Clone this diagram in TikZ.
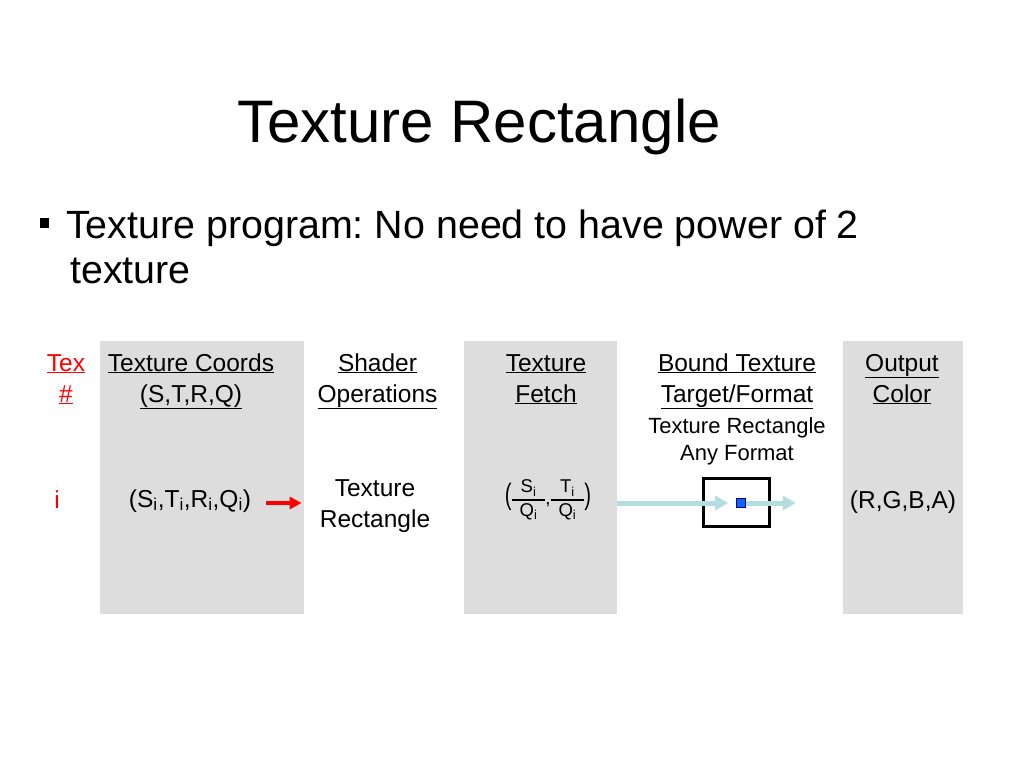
\documentclass[tikz,border=0pt]{standalone}
\usepackage{fontspec}
\usepackage{graphicx}
\setmainfont{Liberation Sans}
\usetikzlibrary{positioning, arrows.meta}
\frenchspacing

\definecolor{panelgray}{HTML}{DDDDDD}
\definecolor{flowblue}{HTML}{B4DDE1}
\definecolor{texelblue}{HTML}{1463F0}
\newcommand\sub[1]{\textsubscript{#1}}
\newcommand\txfrac[2]{{\setlength\arrayrulewidth{1.6pt}%
  \begin{tabular}{@{\hspace{8pt}}c@{\hspace{8pt}}}#1\\\hline #2\end{tabular}}}
\newcommand\bigparen[1]{\scalebox{1.1}[1.6]{#1}}

\begin{document}
\begin{tikzpicture}[
  x=1pt, y=-1pt,
  every node/.style={inner sep=0pt, font=\fontsize{24.5}{31}\selectfont},
  panel/.style={fill=panelgray, minimum height=273pt},
  head/.style={align=center, anchor=base},
  redarrow/.style={-{Triangle[length=12pt,width=12pt]}, line width=4pt, red},
  flow/.style={-{Triangle[length=13pt,width=14pt]}, line width=5pt, flowblue}
]
\useasboundingbox (0,0) rectangle (1024,768);

% Title and bullet
\node[anchor=base, font=\fontsize{60}{72}\selectfont] (title) at (479,142) {Texture Rectangle};
\node[fill=black, minimum size=9.5pt] (bullet) at (44.5,223) {};
\node[anchor=base west, align=left, font=\fontsize{39.4}{45}\selectfont] (point) at (66,283)
  {Texture program: No need to have power of 2\\\hspace*{4pt}texture};

% Gray panels
\node[panel, minimum width=204pt] (coordspanel) at (202,477.5) {};
\node[panel, minimum width=153pt] (fetchpanel) at (540.5,477.5) {};
\node[panel, minimum width=120pt] (outpanel) at (903,477.5) {};

% Column headings (base = last line)
\node[head, red] (texhead) at (66,402) {\underline{Tex}\\\underline{\#}};
\node[head] (coordshead) at (191,402) {\underline{Texture Coords}\\\underline{(S,T,R,Q)}};
\node[head] (shaderhead) at (377.5,402) {\underline{Shader}\\\underline{Operations}};
\node[head] (fetchhead) at (546,402) {\underline{Texture}\\\underline{Fetch}};
\node[head] (boundhead) at (737,402) {\underline{Bound Texture}\\\underline{Target/Format}};
\node[head] (outhead) at (902,402) {\underline{Output}\\\underline{Color}};
\node[head, font=\fontsize{22}{27}\selectfont] (boundnote) at (737,460)
  {Texture Rectangle\\Any Format};

% Row for texture unit i
\node[anchor=base, red] (texrow) at (57,508) {i};
\node[anchor=base] (coordsrow) at (190,507) {(S\sub{i},T\sub{i},R\sub{i},Q\sub{i})};
\node[head] (shaderrow) at (375,527) {Texture\\Rectangle};
\node[font=\fontsize{18.5}{22}\selectfont] (fetchrow) at (548,500)
  {\bigparen{(}\txfrac{S\sub{i}}{Q\sub{i}},\txfrac{T\sub{i}}{Q\sub{i}}\bigparen{)}};
\node[anchor=base] (outrow) at (903,508) {(R,G,B,A)};

% Bound texture with its texel
\node[draw, line width=2.5pt, minimum width=66pt, minimum height=48pt] (texbox) at (736.5,502.5) {};
\node[fill=texelblue, draw=blue!60!black, line width=0.6pt, minimum size=9pt] (texel) at (741,503) {};

% Connectors
\draw[redarrow, shorten <=15pt, shorten >=18pt] (coordsrow.east |- texel) -- (shaderrow.west |- texel);
\draw[flow, shorten >=8pt] (fetchpanel.east |- texel) -- (texel.west);
\draw[flow, shorten >=47pt] (texel.east) -- (outpanel.west |- texel);
\node[fill=texelblue, draw=blue!60!black, line width=0.6pt, minimum size=9pt] at (texel) {};

\end{tikzpicture}
\end{document}
